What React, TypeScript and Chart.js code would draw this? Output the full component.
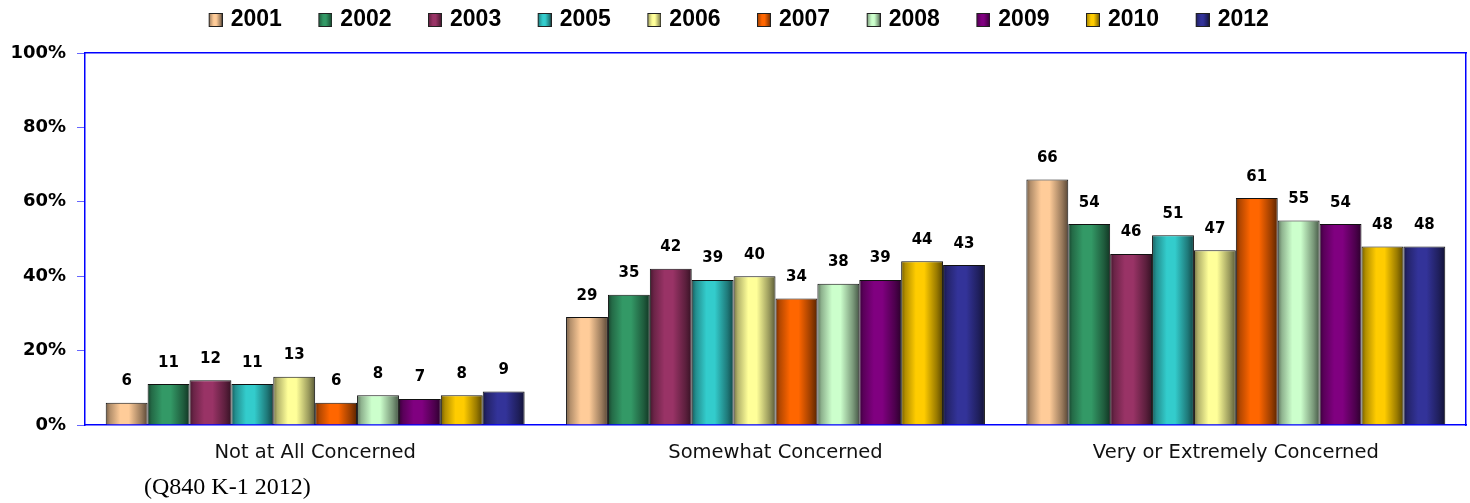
import React, { useEffect, useRef } from 'react';
import { Chart, registerables } from 'chart.js';

Chart.register(...registerables);

const categories = ['Not at All Concerned', 'Somewhat Concerned', 'Very or Extremely Concerned'];
const years = ['2001', '2002', '2003', '2005', '2006', '2007', '2008', '2009', '2010', '2012'];
const colors = ['#FFCC99', '#339966', '#993366', '#33CCCC', '#FFFF99', '#FF6600', '#CCFFCC', '#800080', '#FFCC00', '#333399'];

const s2001 = [6, 29, 66];
const s2002 = [11, 35, 54];
const s2003 = [12, 42, 46];
const s2005 = [11, 39, 51];
const s2006 = [13, 40, 47];
const s2007 = [6, 34, 61];
const s2008 = [8, 38, 55];
const s2009 = [7, 39, 54];
const s2010 = [8, 44, 48];
const s2012 = [9, 43, 48];
const series = [s2001, s2002, s2003, s2005, s2006, s2007, s2008, s2009, s2010, s2012];

const yTicks = [0, 20, 40, 60, 80, 100];
const footnote = '(Q840 K-1 2012)';

const BLUE = '#0000FF';

function shade(hex: string, f: number): string {
  const n = parseInt(hex.slice(1), 16);
  const r = Math.round(((n >> 16) & 255) * f);
  const g = Math.round(((n >> 8) & 255) * f);
  const b = Math.round((n & 255) * f);
  return `rgb(${Math.min(255, r)},${Math.min(255, g)},${Math.min(255, b)})`;
}

function addStops(g: CanvasGradient, base: string) {
  g.addColorStop(0, shade(base, 0.45));
  g.addColorStop(0.1, shade(base, 0.7));
  g.addColorStop(0.35, shade(base, 1));
  g.addColorStop(0.55, shade(base, 1));
  g.addColorStop(0.85, shade(base, 0.6));
  g.addColorStop(1, shade(base, 0.35));
}

function makeIcon(base: string): HTMLCanvasElement {
  const c = document.createElement('canvas');
  c.width = 19;
  c.height = 14;
  const x = c.getContext('2d')!;
  const g = x.createLinearGradient(5, 0, 19, 0);
  addStops(g, base);
  x.fillStyle = g;
  x.fillRect(5.5, 0.5, 13, 13);
  x.strokeStyle = '#222';
  x.lineWidth = 1;
  x.strokeRect(5.5, 0.5, 13, 13);
  return c;
}

const cylinderPlugin = {
  id: 'cylinder',
  beforeDatasetsDraw(chart: any) {
    const ctx = chart.ctx;
    chart.data.datasets.forEach((_ds: any, di: number) => {
      const meta = chart.getDatasetMeta(di);
      meta.data.forEach((el: any) => {
        const { x, width } = el.getProps(['x', 'width'], true);
        const left = x - width / 2;
        const g = ctx.createLinearGradient(left, 0, left + width, 0);
        addStops(g, colors[di]);
        el.options = { ...el.options, backgroundColor: g };
      });
    });
  },
};

const valueLabelPlugin = {
  id: 'valueLabels',
  afterDatasetsDraw(chart: any) {
    const ctx = chart.ctx;
    ctx.save();
    ctx.font = 'bold 15px "DejaVu Sans"';
    ctx.fillStyle = '#000';
    ctx.textAlign = 'center';
    ctx.textBaseline = 'alphabetic';
    chart.data.datasets.forEach((ds: any, di: number) => {
      const meta = chart.getDatasetMeta(di);
      meta.data.forEach((el: any, i: number) => {
        const { x, y } = el.getProps(['x', 'y'], true);
        ctx.fillText(String(ds.data[i]), x, y - 17.5);
      });
    });
    ctx.restore();
  },
};

export default function App() {
  const ref = useRef<HTMLCanvasElement | null>(null);

  useEffect(() => {
    if (!ref.current) return;
    const icons = colors.map(makeIcon);
    const chart = new Chart(ref.current, {
      type: 'bar',
      data: {
        labels: categories,
        datasets: years.map((yr, i) => ({
          label: yr,
          data: series[i],
          backgroundColor: colors[i],
          borderColor: '#111',
          borderWidth: 1,
          categoryPercentage: 0.91,
          barPercentage: 1.0,
          xAxisID: 'x',
          yAxisID: 'y',
        })),
      },
      options: {
        responsive: false,
        animation: false,
        devicePixelRatio: 1,
        layout: { padding: { top: -26.5, left: 10, right: 4, bottom: 38 } },
        plugins: {
          tooltip: { enabled: false },
          legend: {
            display: true,
            position: 'top',
            labels: {
              font: { family: '"Liberation Sans", Arial, sans-serif', size: 23, weight: 'bold' },
              color: '#000',
              usePointStyle: true,
              pointStyleWidth: 12,
              boxHeight: 14,
              padding: 35,
              generateLabels: (c: any) =>
                c.data.datasets.map((ds: any, i: number) => ({
                  text: ds.label,
                  fillStyle: colors[i],
                  strokeStyle: '#333',
                  lineWidth: 1,
                  pointStyle: icons[i],
                  hidden: false,
                  datasetIndex: i,
                  fontColor: '#000',
                })),
            },
          },
        },
        scales: {
          x: {
            type: 'category',
            position: 'bottom',
            grid: { display: true, drawOnChartArea: false, drawTicks: false, color: 'rgba(0,0,0,0)' },
            border: { display: true, color: BLUE, width: 1.5 },
            ticks: {
              font: { family: '"DejaVu Sans"', size: 19.5 },
              color: '#111',
              padding: 16,
              maxRotation: 0,
            },
            afterFit: (s: any) => {
              s.height = 40;
            },
          },
          x2: {
            type: 'category',
            position: 'top',
            grid: { display: true, drawOnChartArea: false, drawTicks: false, color: 'rgba(0,0,0,0)' },
            border: { display: true, color: BLUE, width: 1.5 },
            ticks: { display: false },
            afterFit: (s: any) => {
              s.height = 11.5;
            },
          },
          y: {
            type: 'linear',
            position: 'left',
            min: 0,
            max: 100,
            afterBuildTicks: (s: any) => {
              s.ticks = yTicks.map((v) => ({ value: v }));
            },
            grid: { display: true, drawOnChartArea: false, drawTicks: true, tickLength: 8, color: '#6666FF', lineWidth: 1 },
            border: { display: true, color: BLUE, width: 1.5 },
            ticks: {
              font: { family: '"DejaVu Sans"', size: 18, weight: 'bold' },
              color: '#000',
              padding: 11,
              callback: (v: any) => `${v}%`,
            },
            afterFit: (s: any) => {
              s.width = 75;
            },
          },
          y2: {
            type: 'linear',
            position: 'right',
            min: 0,
            max: 100,
            grid: { display: true, drawOnChartArea: false, drawTicks: false, color: 'rgba(0,0,0,0)' },
            border: { display: true, color: BLUE, width: 1.5 },
            ticks: { display: false },
            afterFit: (s: any) => {
              s.width = 0;
            },
          },
        },
      } as any,
      plugins: [cylinderPlugin, valueLabelPlugin],
    });
    return () => chart.destroy();
  }, []);

  return (
    <div style={{ position: 'absolute', left: 0, top: 0, width: 1470, height: 503, background: '#fff' }}>
      <canvas ref={ref} width={1470} height={503} style={{ display: 'block', width: 1470, height: 503 }} />
      <div
        style={{
          position: 'absolute',
          left: 144,
          top: 473,
          font: '24px "Liberation Serif", serif',
          lineHeight: '27px',
          color: '#000',
          whiteSpace: 'nowrap',
        }}
      >
        {footnote}
      </div>
    </div>
  );
}
